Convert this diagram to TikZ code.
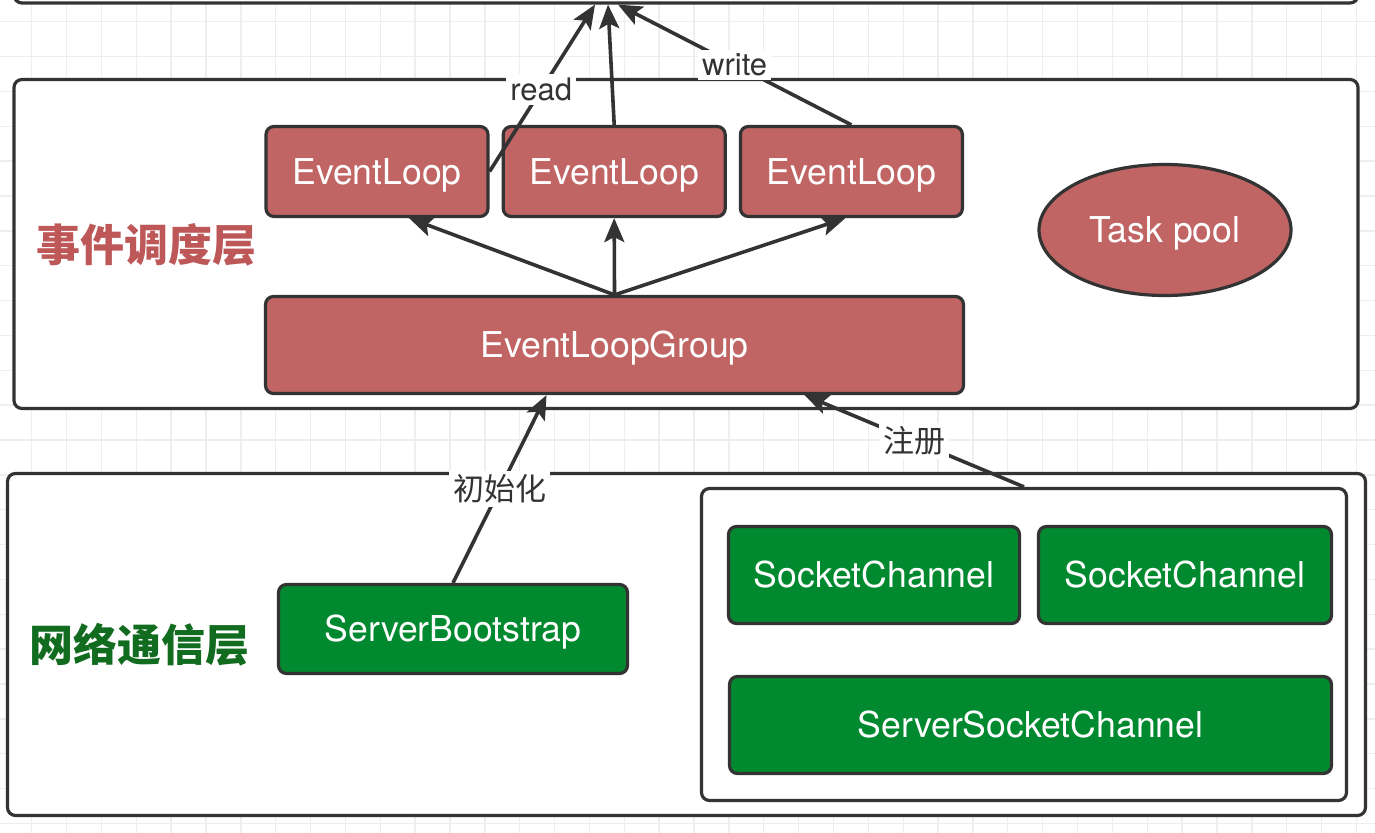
\documentclass[tikz,border=0pt]{standalone}
\usepackage{fontspec}
\setmainfont{TeX Gyre Heros}
\newfontfamily\cjk{Noto Sans CJK SC}
\usepackage{xcolor}
\usetikzlibrary{arrows.meta, positioning, shapes.geometric, calc}

\definecolor{evred}{RGB}{192,100,100}
\definecolor{labred}{RGB}{190,88,88}
\definecolor{netgreen}{RGB}{0,137,46}
\definecolor{labgreen}{RGB}{18,108,32}
\definecolor{edge}{RGB}{51,51,51}
\definecolor{gridgray}{RGB}{238,238,238}

\begin{document}
\begin{tikzpicture}[
  x=0.5pt, y=-0.5pt,
  tier/.style={draw=edge, line width=1.6pt, rounded corners=4pt, fill=white, inner sep=0pt},
  redbox/.style={draw=edge, line width=1.6pt, rounded corners=4pt, fill=evred, text=white, font=\fontsize{17.8}{20}\selectfont, text height=12.8pt, text depth=0pt, minimum height=45pt, inner sep=0pt},
  greenbox/.style={draw=edge, line width=1.6pt, rounded corners=4pt, fill=netgreen, text=white, font=\fontsize{17.8}{20}\selectfont, text height=12.8pt, text depth=0pt, minimum height=48.5pt, inner sep=0pt},
  poolshape/.style={ellipse, draw=edge, line width=1.6pt, fill=evred, text=white, font=\fontsize{17.8}{20}\selectfont, text height=12.8pt, text depth=0pt, minimum width=126pt, minimum height=65.5pt, inner sep=0pt},
  tiername/.style={font=\cjk\bfseries\fontsize{22}{24}\selectfont},
  arr/.style={-{Stealth[length=12pt, width=10pt, inset=2.5pt]}, line width=1.8pt, draw=edge},
  lbl/.style={fill=white, inner sep=2pt, text=edge, font=\fontsize{15.5}{18}\selectfont},
  gridline/.style={draw=gridgray, line width=0.7pt}
]
  \useasboundingbox (0,0) rectangle (1375,833);

  % background grid
  \foreach \k in {0,...,38}
    \draw[gridline] (31.7+34.86*\k,0) -- (31.7+34.86*\k,833);
  \foreach \k in {0,...,23}
    \draw[gridline] (0,21.7+34.86*\k) -- (1375,21.7+34.86*\k);

  % the three layers
  \node[tier, minimum width=672pt, minimum height=43pt] (app) at (686,-40) {};
  \node[tier, minimum width=672pt, minimum height=164.5pt] (sched) at (686,244) {};
  \node[tier, minimum width=679pt, minimum height=171pt] (net) at (686.5,644.5) {};
  \node[tier, minimum width=322.5pt, minimum height=156pt] (chan) at (1024,644.5) {};

  \node[tiername, text=labred] (schedname) at (146,245) {事件调度层};
  \node[tiername, text=labgreen] (netname) at (139,645) {网络通信层};

  % event layer
  \node[redbox, minimum width=111pt] (loop1) at (377,171.5) {EventLoop};
  \node[redbox, minimum width=111pt, right=6pt of loop1] (loop2) {EventLoop};
  \node[redbox, minimum width=111pt, right=6pt of loop2] (loop3) {EventLoop};
  \node[redbox, minimum width=349pt, minimum height=48.5pt] (grp) at (614.5,345) {EventLoopGroup};
  \node[poolshape] (pool) at (1165,230) {Task pool};

  % network layer
  \node[greenbox, minimum width=174.5pt, minimum height=44.5pt] (boot) at (453,629) {ServerBootstrap};
  \node[greenbox, minimum width=145.5pt] (sock1) at (874,575) {SocketChannel};
  \node[greenbox, minimum width=146.5pt] (sock2) at (1185,575) {SocketChannel};
  \node[greenbox, minimum width=301pt] (ssock) at (1030.5,725) {ServerSocketChannel};

  \draw[arr] (grp.north) -- ([xshift=16pt]loop1.south);
  \draw[arr] (grp.north) -- (loop2.south);
  \draw[arr] (grp.north) -- ([xshift=-3pt]loop3.south);

  \draw[arr] (loop1.east) -- ([xshift=-45.5pt]app.south) node[lbl, pos=0.49] {read};
  \draw[arr] (loop2.north) -- ([xshift=-39pt]app.south);
  \draw[arr] (loop3.north) -- ([xshift=-34pt]app.south) node[lbl, midway] {write};

  \draw[arr] (boot.north) -- ([xshift=-34pt]grp.south) node[lbl, midway] {\cjk 初始化};
  \draw[arr] (chan.north) -- ([xshift=95pt]grp.south) node[lbl, midway] {\cjk 注册};
\end{tikzpicture}
\end{document}
